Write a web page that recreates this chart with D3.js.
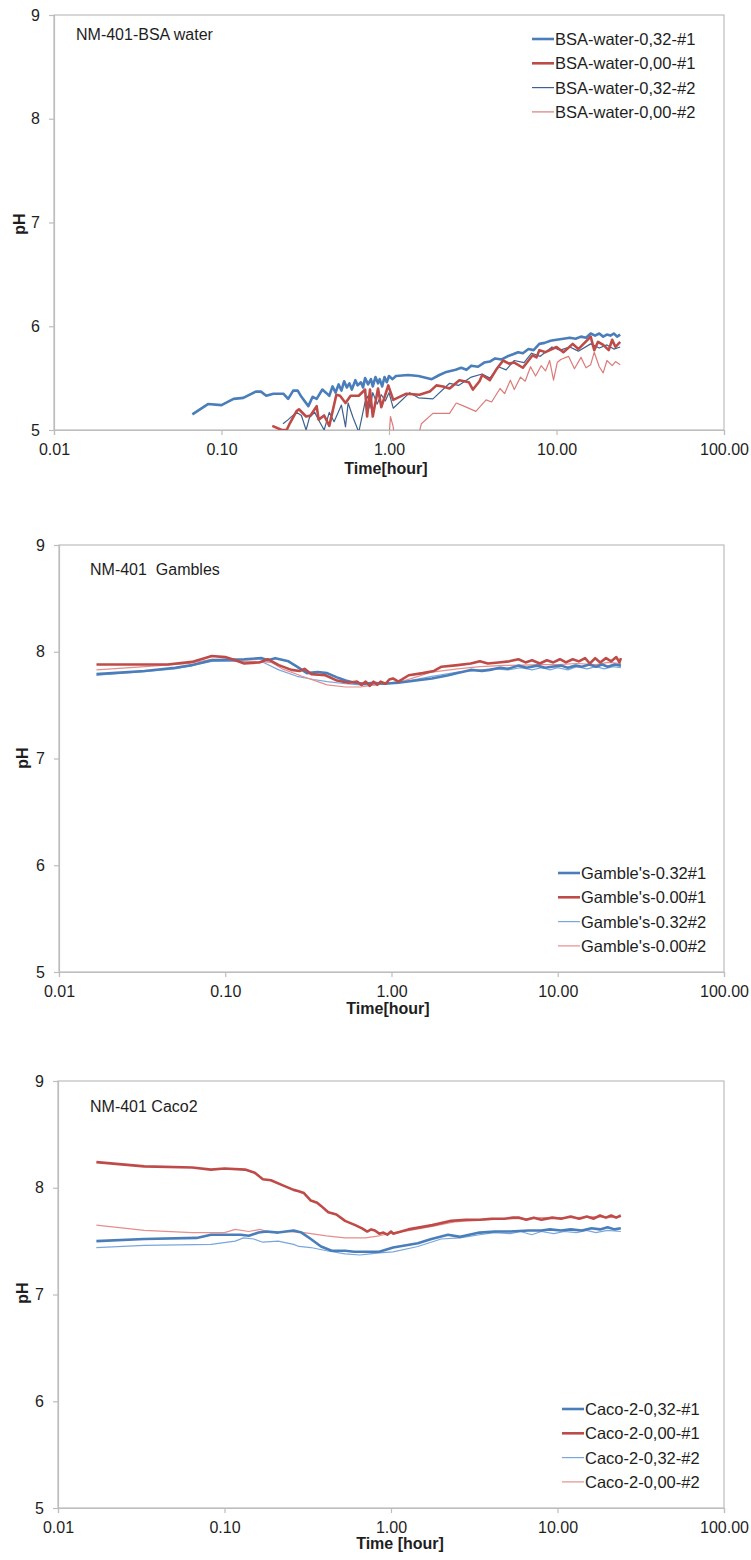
<!DOCTYPE html>
<html>
<head>
<meta charset="utf-8">
<script src="https://cdn.jsdelivr.net/npm/d3@7"></script>
<style>
  html, body { margin: 0; padding: 0; background: #fff; }
  svg { display: block; font-family: "Liberation Sans", Arial, sans-serif; }
</style>
</head>
<body>
<svg id="chart" width="751" height="1560"></svg>
<script>
// ---- shared axis values ----
const xTicks = [0.01, 0.1, 1, 10, 100];
const xTickLabels = ["0.01", "0.10", "1.00", "10.00", "100.00"];
const yTicks = [5, 6, 7, 8, 9];
const yTickLabels = ["5", "6", "7", "8", "9"];

// ---- NM-401 in BSA water: [time (h), pH] ----
const bsaNames = ["BSA-water-0,32-#1", "BSA-water-0,00-#1", "BSA-water-0,32-#2", "BSA-water-0,00-#2"];
const bsaBlue1 = [[0.067,5.15],[0.083,5.25],[0.100,5.24],[0.118,5.30],[0.135,5.31],[0.160,5.37],[0.172,5.37],[0.185,5.33],[0.204,5.35],[0.234,5.35],[0.250,5.30],[0.268,5.38],[0.285,5.38],[0.300,5.32],[0.330,5.23],[0.350,5.32],[0.370,5.30],[0.400,5.39],[0.420,5.36],[0.440,5.33],[0.460,5.42],[0.480,5.36],[0.500,5.44],[0.520,5.38],[0.540,5.47],[0.560,5.41],[0.580,5.45],[0.600,5.39],[0.630,5.48],[0.650,5.43],[0.680,5.46],[0.700,5.41],[0.720,5.50],[0.750,5.44],[0.780,5.49],[0.800,5.42],[0.830,5.51],[0.860,5.45],[0.880,5.49],[0.910,5.42],[0.940,5.51],[0.970,5.46],[1.00,5.52],[1.05,5.49],[1.10,5.52],[1.30,5.53],[1.50,5.52],[1.80,5.49],[2.00,5.53],[2.20,5.56],[2.50,5.58],[2.70,5.60],[2.90,5.58],[3.10,5.62],[3.40,5.61],[3.70,5.65],[4.00,5.66],[4.30,5.69],[4.70,5.68],[5.10,5.71],[5.50,5.73],[5.90,5.75],[6.30,5.74],[6.80,5.78],[7.30,5.77],[7.90,5.83],[8.50,5.84],[9.20,5.86],[10.0,5.87],[11.0,5.88],[12.0,5.89],[13.0,5.88],[14.0,5.90],[15.0,5.89],[16.0,5.93],[17.0,5.91],[18.0,5.93],[19.0,5.90],[20.0,5.92],[21.0,5.91],[22.0,5.93],[23.0,5.90],[24.0,5.92]];
const bsaRed1 = [[0.201,5.04],[0.229,5.00],[0.245,5.00],[0.255,5.06],[0.280,5.18],[0.290,5.20],[0.320,5.13],[0.340,5.14],[0.370,5.23],[0.380,5.10],[0.410,5.14],[0.440,5.04],[0.485,5.34],[0.510,5.33],[0.550,5.26],[0.590,5.33],[0.660,5.33],[0.720,5.39],[0.740,5.13],[0.770,5.39],[0.800,5.13],[0.860,5.40],[0.900,5.22],[0.990,5.43],[1.06,5.29],[1.27,5.35],[1.52,5.34],[1.75,5.37],[1.92,5.43],[2.10,5.42],[2.30,5.40],[2.63,5.48],[3.00,5.46],[3.17,5.39],[3.47,5.47],[3.60,5.53],[4.00,5.48],[4.36,5.58],[4.80,5.67],[5.20,5.64],[5.60,5.65],[6.30,5.60],[7.20,5.72],[7.60,5.70],[7.90,5.77],[8.60,5.75],[10.0,5.80],[11.0,5.75],[12.5,5.83],[13.5,5.78],[14.5,5.83],[16.0,5.90],[16.8,5.77],[17.7,5.85],[19.0,5.82],[20.5,5.77],[21.5,5.87],[22.5,5.80],[24.0,5.85]];
const bsaBlue2 = [[0.233,5.06],[0.250,5.10],[0.280,5.17],[0.300,5.14],[0.320,5.00],[0.335,5.12],[0.360,5.17],[0.385,5.08],[0.410,5.00],[0.440,5.17],[0.470,5.08],[0.520,5.24],[0.550,5.03],[0.570,5.26],[0.610,5.12],[0.660,4.98],[0.720,5.27],[0.750,5.33],[0.770,5.21],[0.800,5.36],[0.850,5.25],[0.900,5.34],[0.950,5.28],[1.00,5.36],[1.06,5.21],[1.33,5.36],[1.50,5.31],[1.83,5.30],[2.30,5.45],[2.60,5.43],[3.10,5.51],[3.60,5.54],[4.00,5.50],[4.50,5.61],[5.00,5.58],[5.60,5.67],[6.40,5.65],[7.10,5.74],[8.00,5.71],[9.40,5.80],[10.5,5.77],[12.0,5.80],[13.5,5.76],[16.0,5.83],[18.0,5.79],[20.0,5.82],[22.0,5.78],[24.0,5.80]];
const bsaRed2 = [[0.98,4.70],[1.02,5.13],[1.06,5.03],[1.10,4.75],[1.45,4.85],[1.56,5.06],[1.83,5.16],[2.30,5.16],[2.52,5.26],[2.80,5.23],[3.30,5.18],[3.80,5.29],[4.10,5.27],[4.60,5.40],[4.90,5.35],[5.30,5.48],[5.60,5.39],[6.10,5.51],[6.50,5.47],[7.00,5.61],[7.50,5.52],[8.10,5.62],[8.60,5.57],[9.10,5.67],[9.60,5.48],[10.1,5.65],[10.6,5.68],[11.8,5.71],[12.8,5.59],[14.0,5.70],[15.0,5.60],[16.0,5.63],[16.8,5.75],[18.0,5.61],[19.0,5.55],[20.0,5.67],[21.5,5.62],[22.5,5.66],[24.0,5.63]];

// ---- NM-401 in Gamble's solution ----
const gamNames = ["Gamble's-0.32#1", "Gamble's-0.00#1", "Gamble's-0.32#2", "Gamble's-0.00#2"];
const gamBlue1 = [[0.0168,7.79],[0.0327,7.82],[0.050,7.85],[0.0634,7.875],[0.083,7.92],[0.10,7.925],[0.13,7.93],[0.166,7.94],[0.18,7.92],[0.20,7.94],[0.24,7.91],[0.27,7.86],[0.31,7.80],[0.36,7.81],[0.41,7.80],[0.47,7.76],[0.53,7.73],[0.60,7.71],[0.69,7.70],[0.78,7.71],[0.90,7.70],[1.10,7.71],[1.40,7.73],[1.75,7.75],[2.20,7.78],[2.50,7.80],[3.00,7.83],[3.50,7.82],[3.90,7.83],[4.50,7.85],[5.00,7.84],[5.80,7.87],[6.50,7.85],[7.50,7.87],[8.40,7.85],[9.20,7.86],[10.5,7.87],[11.5,7.85],[12.8,7.87],[14.0,7.86],[15.5,7.88],[17.0,7.86],[18.5,7.88],[20.0,7.86],[22.0,7.88],[24.0,7.87]];
const gamRed1 = [[0.0168,7.88],[0.030,7.88],[0.045,7.88],[0.063,7.905],[0.075,7.94],[0.083,7.96],[0.10,7.95],[0.115,7.92],[0.13,7.89],[0.16,7.90],[0.18,7.93],[0.21,7.875],[0.25,7.83],[0.28,7.82],[0.30,7.84],[0.33,7.79],[0.40,7.78],[0.47,7.73],[0.55,7.71],[0.62,7.72],[0.66,7.69],[0.70,7.72],[0.74,7.68],[0.78,7.72],[0.82,7.69],[0.86,7.72],[0.92,7.70],[0.97,7.74],[1.02,7.75],[1.10,7.72],[1.27,7.78],[1.54,7.80],[1.80,7.82],[2.00,7.86],[2.50,7.875],[3.00,7.89],[3.40,7.91],[3.80,7.89],[4.40,7.90],[5.10,7.91],[5.80,7.93],[6.40,7.90],[7.00,7.92],[7.80,7.89],[8.60,7.92],[9.40,7.90],[10.3,7.93],[11.2,7.90],[12.3,7.93],[13.4,7.91],[14.6,7.94],[15.6,7.89],[16.8,7.94],[18.0,7.90],[19.5,7.94],[21.0,7.91],[22.5,7.95],[23.5,7.90],[24.0,7.94]];
const gamBlue2 = [[0.0168,7.78],[0.030,7.81],[0.050,7.84],[0.083,7.91],[0.12,7.91],[0.17,7.90],[0.21,7.83],[0.27,7.77],[0.34,7.74],[0.41,7.72],[0.53,7.70],[0.65,7.69],[0.80,7.69],[0.95,7.70],[1.20,7.72],[1.75,7.77],[2.50,7.81],[3.40,7.83],[4.20,7.84],[5.00,7.83],[6.00,7.85],[7.00,7.83],[8.00,7.85],[9.00,7.83],[10.0,7.85],[11.5,7.83],[13.0,7.86],[15.0,7.84],[17.0,7.86],[19.0,7.84],[21.5,7.86],[24.0,7.85]];
const gamRed2 = [[0.0168,7.83],[0.033,7.86],[0.060,7.89],[0.083,7.93],[0.11,7.92],[0.15,7.91],[0.19,7.90],[0.22,7.84],[0.29,7.77],[0.36,7.72],[0.41,7.69],[0.53,7.67],[0.65,7.67],[0.80,7.69],[1.00,7.71],[1.20,7.73],[1.75,7.81],[2.50,7.84],[3.40,7.86],[4.50,7.87],[6.00,7.875],[8.00,7.88],[10.0,7.88],[13.0,7.89],[17.0,7.88],[20.0,7.90],[24.0,7.89]];

// ---- NM-401 in Caco-2 medium ----
const cacoNames = ["Caco-2-0,32-#1", "Caco-2-0,00-#1", "Caco-2-0,32-#2", "Caco-2-0,00-#2"];
const cacoBlue1 = [[0.017,7.50],[0.033,7.52],[0.068,7.53],[0.083,7.56],[0.125,7.56],[0.14,7.55],[0.16,7.58],[0.18,7.59],[0.21,7.58],[0.26,7.60],[0.29,7.58],[0.33,7.52],[0.38,7.45],[0.44,7.41],[0.53,7.41],[0.60,7.40],[0.70,7.40],[0.85,7.40],[1.03,7.44],[1.45,7.48],[1.75,7.52],[2.20,7.56],[2.60,7.54],[3.40,7.58],[4.20,7.59],[5.20,7.59],[6.70,7.60],[8.00,7.60],[9.00,7.61],[10.5,7.60],[12.0,7.61],[14.0,7.60],[16.0,7.62],[18.0,7.61],[20.0,7.63],[22.0,7.61],[24.0,7.62]];
const cacoRed1 = [[0.017,8.24],[0.033,8.20],[0.064,8.19],[0.083,8.17],[0.10,8.18],[0.133,8.17],[0.152,8.14],[0.17,8.08],[0.19,8.07],[0.226,8.02],[0.26,7.98],[0.276,7.97],[0.30,7.95],[0.33,7.88],[0.36,7.86],[0.38,7.83],[0.42,7.77],[0.47,7.75],[0.53,7.69],[0.61,7.65],[0.67,7.62],[0.72,7.59],[0.76,7.61],[0.80,7.60],[0.85,7.57],[0.90,7.58],[0.95,7.56],[1.00,7.59],[1.03,7.57],[1.27,7.61],[1.77,7.65],[2.30,7.69],[2.80,7.70],[3.40,7.70],[4.00,7.71],[4.80,7.71],[5.40,7.72],[5.90,7.72],[6.50,7.70],[7.20,7.72],[8.00,7.70],[9.30,7.72],[10.5,7.71],[12.0,7.73],[13.5,7.71],[15.0,7.73],[16.5,7.71],[18.0,7.74],[19.5,7.72],[21.0,7.74],[22.5,7.72],[24.0,7.74]];
const cacoBlue2 = [[0.017,7.44],[0.033,7.46],[0.083,7.47],[0.116,7.50],[0.13,7.53],[0.15,7.52],[0.17,7.49],[0.21,7.50],[0.26,7.47],[0.28,7.45],[0.33,7.44],[0.41,7.41],[0.53,7.38],[0.65,7.37],[0.75,7.38],[0.85,7.39],[1.03,7.40],[1.45,7.45],[2.00,7.52],[2.60,7.53],[3.40,7.56],[4.20,7.58],[5.20,7.57],[6.00,7.59],[7.00,7.56],[8.00,7.59],[9.50,7.57],[11.0,7.59],[13.0,7.58],[15.0,7.60],[17.0,7.58],[20.0,7.60],[24.0,7.59]];
const cacoRed2 = [[0.017,7.65],[0.033,7.60],[0.064,7.58],[0.10,7.58],[0.116,7.61],[0.14,7.59],[0.163,7.61],[0.19,7.58],[0.23,7.59],[0.30,7.58],[0.41,7.55],[0.53,7.53],[0.70,7.53],[0.85,7.55],[1.04,7.58],[1.30,7.60],[1.80,7.64],[2.40,7.68],[3.00,7.69],[4.00,7.70],[5.00,7.71],[6.50,7.71],[8.00,7.72],[10.0,7.72],[13.0,7.72],[17.0,7.73],[20.0,7.72],[24.0,7.73]];

// ---- panel layout and line styles ----
const panels = [
  {
    id: "bsa", title: "NM-401-BSA water", xTitle: "Time[hour]",
    left: 54, right: 724, top: 15, bottom: 430,
    titleX: 76, titleY: 40, xTitleX: 386, xTitleY: 474, yTitleX: 25, yTitleY: 224,
    legX: 532, legY: 39,
    names: bsaNames, data: [bsaBlue1, bsaRed1, bsaBlue2, bsaRed2],
    colors: ["#4a7ebb", "#be4b48", "#3d6190", "#dc7b79"]
  },
  {
    id: "gam", title: "NM-401  Gambles", xTitle: "Time[hour]",
    left: 59, right: 724, top: 545, bottom: 972,
    titleX: 90, titleY: 575, xTitleX: 388, xTitleY: 1014, yTitleX: 28, yTitleY: 758,
    legX: 558, legY: 873,
    names: gamNames, data: [gamBlue1, gamRed1, gamBlue2, gamRed2],
    colors: ["#4a7ebb", "#be4b48", "#79a6dc", "#e58e8c"]
  },
  {
    id: "caco", title: "NM-401 Caco2", xTitle: "Time [hour]",
    left: 58, right: 724, top: 1081, bottom: 1508,
    titleX: 90, titleY: 1112, xTitleX: 400, xTitleY: 1549, yTitleX: 28, yTitleY: 1293,
    legX: 562, legY: 1409,
    names: cacoNames, data: [cacoBlue1, cacoRed1, cacoBlue2, cacoRed2],
    colors: ["#4a7ebb", "#be4b48", "#79a6dc", "#e58e8c"]
  }
];
const widths = [2.6, 2.6, 1.2, 1.2];
const frameColor = "#bdbdbd";
const textColor = "#1e1e1e";

const svg = d3.select("#chart");

panels.forEach(p => {
  const x = d3.scaleLog().domain([0.01, 100]).range([p.left, p.right]);
  const y = d3.scaleLinear().domain([5, 9]).range([p.bottom, p.top]);
  const g = svg.append("g").attr("class", "panel-" + p.id);

  // plot frame
  g.append("rect")
    .attr("x", p.left).attr("y", p.top)
    .attr("width", p.right - p.left).attr("height", p.bottom - p.top)
    .attr("fill", "none").attr("stroke", frameColor).attr("stroke-width", 1.2);

  // axes
  const xAxis = d3.axisBottom(x).tickValues(xTicks).tickSize(5).tickPadding(8)
    .tickFormat((d, i) => xTickLabels[i]);
  const yAxis = d3.axisLeft(y).tickValues(yTicks).tickSize(5).tickPadding(9)
    .tickFormat((d, i) => yTickLabels[i]);

  const gx = g.append("g").attr("transform", `translate(0,${p.bottom})`).call(xAxis);
  const gy = g.append("g").attr("transform", `translate(${p.left},0)`).call(yAxis);
  [gx, gy].forEach(a => {
    a.select(".domain").attr("stroke", frameColor).attr("stroke-width", 1.2);
    a.selectAll(".tick line").attr("stroke", frameColor).attr("stroke-width", 1.2);
    a.selectAll(".tick text").attr("fill", textColor)
      .style("font-size", "16px").style("font-family", "'Liberation Sans', Arial, sans-serif");
  });
  gx.selectAll(".tick text").attr("dy", null).attr("y", 25);

  // axis titles
  g.append("text")
    .attr("x", p.xTitleX).attr("y", p.xTitleY)
    .attr("text-anchor", "middle").attr("fill", textColor)
    .style("font-size", "16px").style("font-weight", "bold")
    .text(p.xTitle);
  g.append("text")
    .attr("transform", `translate(${p.yTitleX},${p.yTitleY}) rotate(-90)`)
    .attr("text-anchor", "middle").attr("fill", textColor)
    .style("font-size", "16px").style("font-weight", "bold")
    .text("pH");

  // series, clipped to the plot area
  const clipId = "clip-" + p.id;
  g.append("clipPath").attr("id", clipId)
    .append("rect")
    .attr("x", p.left).attr("y", p.top)
    .attr("width", p.right - p.left).attr("height", p.bottom - p.top);

  const line = d3.line().x(d => x(d[0])).y(d => y(d[1]));
  const series = g.append("g").attr("clip-path", `url(#${clipId})`);
  // thin replicate lines drawn first, thick ones on top
  [2, 3, 0, 1].forEach(i => {
    series.append("path")
      .datum(p.data[i])
      .attr("d", line)
      .attr("fill", "none")
      .attr("stroke", p.colors[i])
      .attr("stroke-width", widths[i])
      .attr("stroke-linejoin", "round");
  });

  // panel caption
  g.append("text")
    .attr("x", p.titleX).attr("y", p.titleY)
    .attr("fill", textColor).style("font-size", "16px")
    .style("white-space", "pre")
    .text(p.title);

  // legend
  const leg = g.append("g");
  p.names.forEach((name, i) => {
    const ly = p.legY + i * 24.3;
    leg.append("line")
      .attr("x1", p.legX).attr("x2", p.legX + 22)
      .attr("y1", ly).attr("y2", ly)
      .attr("stroke", p.colors[i]).attr("stroke-width", widths[i]);
    leg.append("text")
      .attr("x", p.legX + 23).attr("y", ly).attr("dy", "0.36em")
      .attr("fill", textColor).style("font-size", "16.5px")
      .text(name);
  });
});
</script>
</body>
</html>
